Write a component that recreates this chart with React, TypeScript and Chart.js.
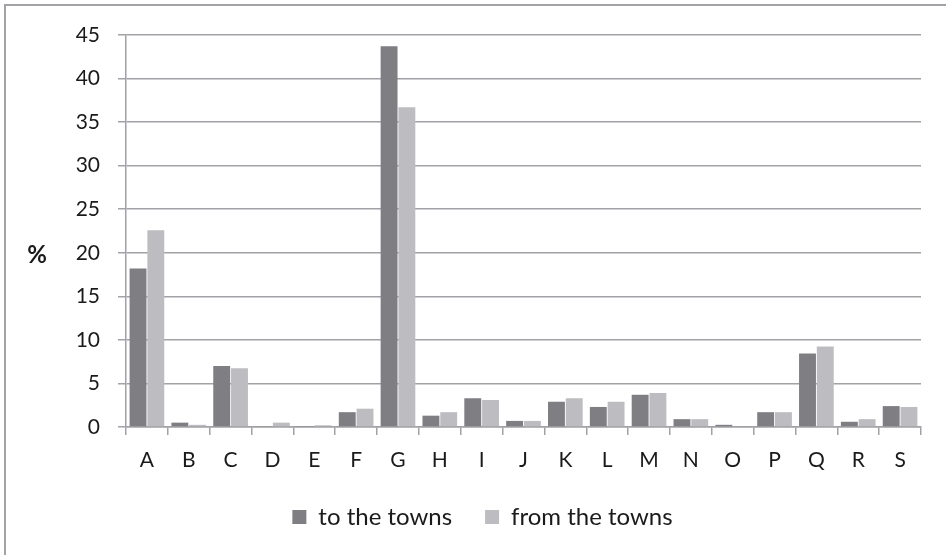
import React, { useEffect, useRef } from "react";
import { Chart, registerables } from "chart.js";

Chart.register(...registerables);

const categories = ["A", "B", "C", "D", "E", "F", "G", "H", "I", "J", "K", "L", "M", "N", "O", "P", "Q", "R", "S"];
const toTheTowns = [18.2, 0.5, 7.0, 0.1, 0.05, 1.7, 43.7, 1.3, 3.3, 0.7, 2.9, 2.3, 3.7, 0.9, 0.25, 1.7, 8.45, 0.6, 2.4];
const fromTheTowns = [22.6, 0.25, 6.75, 0.5, 0.2, 2.1, 36.7, 1.7, 3.1, 0.7, 3.3, 2.9, 3.9, 0.9, 0, 1.7, 9.25, 0.9, 2.3];
const seriesNames = ["to the towns", "from the towns"];
const yTitle = "%";

const FONT = "Lato, 'Noto Sans', sans-serif";
const GRID = "#a2a2a6";

export default function App() {
  const ref = useRef<HTMLCanvasElement | null>(null);

  useEffect(() => {
    document.body.style.margin = "0";
    const canvas = ref.current;
    if (!canvas) return;

    const yTitlePlugin = {
      id: "yTitlePlugin",
      afterDraw(chart: any) {
        const ctx = chart.ctx;
        const y = chart.scales.y;
        ctx.save();
        ctx.font = `bold 24px ${FONT}`;
        ctx.fillStyle = "#1a1a1a";
        ctx.textAlign = "center";
        ctx.textBaseline = "middle";
        ctx.fillText(yTitle, 37, (y.top + y.bottom) / 2 + 24);
        ctx.restore();
      },
    };

    const chart = new Chart(canvas, {
      type: "bar",
      data: {
        labels: categories,
        datasets: [
          { label: seriesNames[0], data: toTheTowns, backgroundColor: "#7e7e83" },
          { label: seriesNames[1], data: fromTheTowns, backgroundColor: "#bdbdc1" },
        ],
      },
      options: {
        animation: false,
        responsive: false,
        devicePixelRatio: 1,
        layout: { padding: { left: 44, right: 25, top: 35, bottom: 16 } },
        datasets: { bar: { categoryPercentage: 0.85, barPercentage: 0.95 } },
        plugins: {
          tooltip: { enabled: false },
          legend: {
            position: "bottom",
            labels: {
              font: { family: FONT, size: 24 },
              color: "#1a1a1a",
              boxWidth: 14,
              boxHeight: 14,
              padding: 33,
            },
          },
        },
        scales: {
          x: {
            grid: { drawOnChartArea: false, drawTicks: true, tickLength: 8, offset: true, color: GRID, lineWidth: 1.5 },
            border: { display: true, color: GRID, width: 1.5 },
            ticks: { font: { family: FONT, size: 21 }, color: "#1a1a1a", padding: 13, maxRotation: 0 },
            afterFit: (s: any) => {
              s.height = 45;
            },
          },
          y: {
            min: 0,
            max: 45,
            ticks: { stepSize: 5, font: { family: FONT, size: 21 }, color: "#1a1a1a", padding: 18 },
            grid: { color: GRID, lineWidth: 1.5, tickLength: 8 },
            border: { display: true, color: GRID, width: 1.5 },
            afterFit: (s: any) => {
              s.width = 82;
            },
          },
        },
      },
      plugins: [yTitlePlugin],
    });

    return () => chart.destroy();
  }, []);

  return (
    <div style={{ position: "relative", width: 946, height: 555, background: "#fff", overflow: "hidden" }}>
      <canvas ref={ref} width={946} height={555} style={{ position: "absolute", left: 0, top: 0 }} />
      <div
        style={{
          position: "absolute",
          left: 4,
          top: 4,
          right: -10,
          bottom: -10,
          borderTop: "2px solid #a3a3a7",
          borderLeft: "2px solid #a3a3a7",
          pointerEvents: "none",
        }}
      />
    </div>
  );
}
